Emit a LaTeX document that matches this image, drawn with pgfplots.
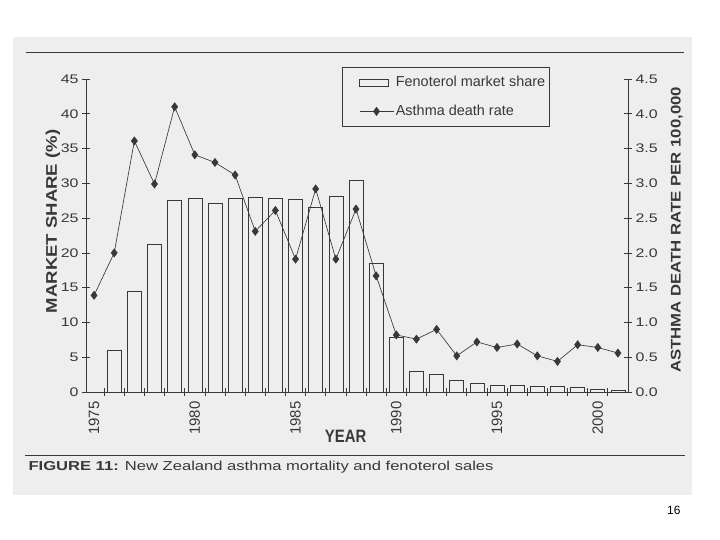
\documentclass[border=0pt]{standalone}
\usepackage{fontspec}
\setmainfont{Liberation Sans}
\newfontfamily\widefont{Liberation Sans}[FakeStretch=1.28]
\newfontfamily\boldwide{Liberation Sans}[FakeStretch=1.2]
\newfontfamily\narrowfont{Liberation Sans}[FakeStretch=0.83]
\usepackage{pgfplots}
\pgfplotsset{compat=1.18}
\usepackage{pgfplotstable}

\definecolor{paper}{gray}{0.935}
\definecolor{ink}{gray}{0.22}

\pgfplotsset{
  diamond legend/.style={legend image code/.code={%
    \path (-15bp,0bp);
    \draw[mark repeat=2, mark phase=2, ##1] plot coordinates {(0bp,0bp) (17bp,0bp) (34bp,0bp)};}},
  bar legend/.style={legend image code/.code={%
    \path (-15bp,0bp);
    \draw[fill=paper, draw=ink, line width=0.6bp] (0bp,-3.5bp) rectangle (29bp,3.5bp);}},
}

% fenoterol market share (%)
\pgfplotstableread{
year share
1976 6.0
1977 14.5
1978 21.3
1979 27.5
1980 27.8
1981 27.2
1982 27.8
1983 28.0
1984 27.9
1985 27.7
1986 26.5
1987 28.2
1988 30.5
1989 18.5
1990 7.9
1991 3.0
1992 2.6
1993 1.7
1994 1.3
1995 1.0
1996 0.9
1997 0.8
1998 0.8
1999 0.7
2000 0.4
2001 0.3
}\shares

% asthma death rate per 100,000
\pgfplotstableread{
year rate
1975 1.39
1976 2.00
1977 3.61
1978 2.99
1979 4.10
1980 3.41
1981 3.30
1982 3.12
1983 2.31
1984 2.61
1985 1.91
1986 2.92
1987 1.91
1988 2.63
1989 1.67
1990 0.82
1991 0.76
1992 0.90
1993 0.52
1994 0.72
1995 0.64
1996 0.69
1997 0.52
1998 0.44
1999 0.68
2000 0.64
2001 0.56
}\rates

\begin{document}
\begin{tikzpicture}
\path[use as bounding box, fill=white] (0,0) rectangle (720bp,540bp);
\fill[paper] (13bp,45bp) rectangle (692bp,503bp);
\draw[ink, line width=1.1bp] (26bp,487.3bp) -- (684bp,487.3bp);
\draw[ink, line width=1.1bp] (25bp,84.3bp) -- (685bp,84.3bp);

\pgfplotsset{
  base/.style={
    at={(86bp,148bp)}, anchor=south west, scale only axis,
    width=542bp, height=313bp,
    xmin=1974.6, xmax=2001.5,
    /pgf/number format/assume math mode=true,
    /pgf/number format/1000 sep={},
    axis line style={ink, line width=0.7bp},
    tick style={ink, line width=0.7bp},
    tick align=center,
    major tick length=8bp, minor tick length=8bp,
  }
}

\begin{axis}[base,
  ymin=0, ymax=45,
  axis y line*=left, axis x line*=bottom,
  xtick={1975,1980,...,2000},
  major x tick style={draw=none},
  minor xtick={1975.5,1976.5,...,2000.5},
  ytick={0,5,...,45},
  x tick label style={rotate=90, anchor=east, xshift=-2bp, font=\fontsize{15}{16}\selectfont, color=ink},
  y tick label style={font=\widefont\fontsize{12.5}{13}\selectfont, color=ink},
  xlabel={\narrowfont\bfseries YEAR},
  xlabel style={at={(rel axis cs:0.479,-0.142)}, anchor=center, font=\fontsize{18}{20}\selectfont, color=ink},
  ylabel={\boldwide\bfseries MARKET SHARE (\%)},
  ylabel style={at={(rel axis cs:-0.061,0.545)}, anchor=center, font=\fontsize{15.5}{17}\selectfont, color=ink},
]
\addplot[ybar, bar width=14bp, fill=paper, draw=ink, line width=0.6bp] table[x=year, y=share] {\shares};
\end{axis}

\begin{axis}[base,
  ymin=0, ymax=4.5,
  axis y line*=right, axis x line=none,
  ytick={0,0.5,...,4.5},
  y tick label style={font=\widefont\fontsize{12.5}{13}\selectfont, color=ink,
    /pgf/number format/.cd, fixed, fixed zerofill, precision=1, assume math mode=true},
  ylabel={\boldwide\bfseries ASTHMA DEATH RATE PER 100,000},
  ylabel style={at={(rel axis cs:1.09,0.518)}, anchor=center, font=\fontsize{14}{16}\selectfont, color=ink},
  legend cell align=left,
  legend style={at={(rel axis cs:0.472,1.038)}, anchor=north west,
    draw=ink, line width=0.7bp, fill=paper, text=ink,
    font=\fontsize{14.5}{16}\selectfont,
    inner xsep=2bp, inner ysep=7bp, row sep=13bp},
]
\addlegendimage{bar legend}
\addlegendentry{Fenoterol market share}
\addplot[ink, line width=0.65bp, mark=diamond*, mark size=4bp,
  mark options={solid, fill=ink, draw=ink}, diamond legend]
  table[x=year, y=rate] {\rates};
\addlegendentry{Asthma death rate}
\end{axis}

\node[anchor=base west, text=ink, font=\fontsize{13}{15}\selectfont] at (25bp,69.3bp)
  {\widefont{\bfseries FIGURE 11:} New Zealand asthma mortality and fenoterol sales};
\node[anchor=base east, font=\fontsize{12}{14}\selectfont] at (684bp,26bp) {16};
\end{tikzpicture}
\end{document}
